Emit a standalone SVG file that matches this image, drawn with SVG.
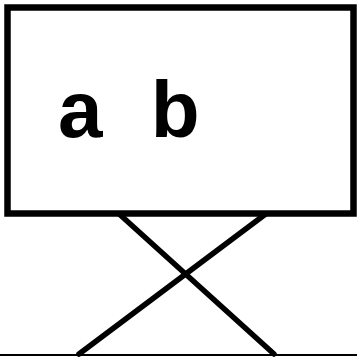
<svg xmlns="http://www.w3.org/2000/svg" width="357" height="358" viewBox="0 0 357 358">
<style>
.box{fill:#fff;stroke:#000;stroke-width:6.5}
.leg{stroke:#000;stroke-width:5.5;stroke-linecap:round;fill:none}
.floor{stroke:#000;stroke-width:2;fill:none}
.lbl{font-family:"Liberation Sans",Arial,sans-serif;font-weight:bold;font-size:80px;fill:#000}
</style>
<rect width="357" height="358" fill="#fff"/>
<g id="connectors">
<line class="leg" x1="117" y1="212" x2="274" y2="354"/>
<line class="leg" x1="271" y1="210" x2="79" y2="354"/>
<line class="floor" x1="0" y1="355" x2="357" y2="355"/>
</g>
<g id="node-ab">
<rect class="box" x="7.5" y="7.5" width="346" height="206"/>
<text class="lbl" x="58" y="137" word-spacing="26">a b</text>
</g>
</svg>
